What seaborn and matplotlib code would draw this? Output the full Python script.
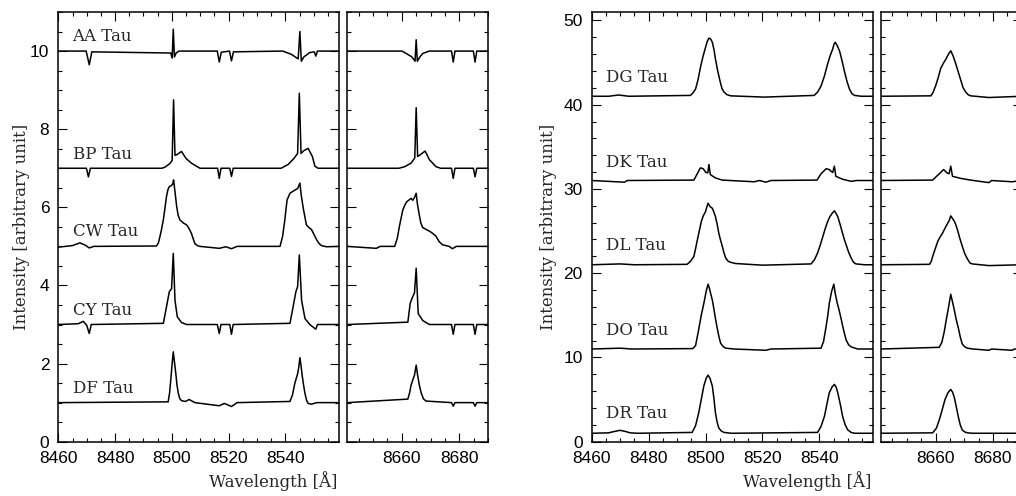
import matplotlib
matplotlib.use("Agg")
import matplotlib.pyplot as plt
from matplotlib.ticker import MultipleLocator
import seaborn as sns

sns.set_style("ticks")
plt.rcParams["font.family"] = ["Liberation Sans", "DejaVu Sans"]

# ---- spectra (wavelength in A, intensity) ----
# left group: offsets 10, 7, 5, 3, 1
aa_wave = [8460, 8469.8, 8470.9, 8471.8, 8499.6, 8500.1, 8500.5, 8500.9, 8501.5, 8502.5,
           8516.0, 8516.7, 8517.4, 8520.3, 8521.0, 8521.7, 8539.0, 8542.0, 8544.5, 8545.1,
           8545.6, 8546.5, 8548.5, 8550.2, 8550.7, 8551.3, 8559,
           8641, 8660.0, 8661.5, 8663.5, 8664.6, 8665.0, 8665.4, 8666.3, 8667.3, 8669.6,
           8677.3, 8677.9, 8678.5, 8684.9, 8685.5, 8686.1, 8690]
aa_flux = [10.0, 10.0, 9.65, 9.98, 9.95, 9.82, 10.56, 9.85, 9.95, 10.0,
           10.0, 9.72, 9.97, 10.0, 9.75, 9.98, 10.0, 9.92, 9.80, 10.50,
           9.74, 9.85, 9.96, 9.98, 9.87, 10.0, 10.0,
           10.0, 10.0, 9.94, 9.85, 9.74, 10.29, 9.74, 9.85, 9.94, 10.0,
           10.0, 9.72, 10.0, 10.0, 9.72, 10.0, 10.0]

bp_wave = [8460, 8469.9, 8470.6, 8471.3, 8496.5, 8497.6, 8499.3, 8500.1, 8500.6, 8501.1,
           8501.8, 8503.4, 8505.0, 8506.9, 8509.9, 8516.1, 8516.7, 8517.3, 8520.4, 8521.0,
           8521.6, 8538.5, 8541.0, 8543.0, 8544.3, 8544.9, 8545.5, 8546.5, 8548.0, 8549.5,
           8550.4, 8551.5, 8559,
           8641, 8659.0, 8661.0, 8663.2, 8664.5, 8665.0, 8665.5, 8666.5, 8668.1, 8669.6,
           8671.9, 8673.5, 8677.3, 8677.9, 8678.5, 8684.9, 8685.5, 8686.1, 8690]
bp_flux = [7.0, 7.0, 6.78, 7.0, 7.0, 7.03, 7.12, 7.2, 8.75, 7.33,
           7.35, 7.43, 7.25, 7.13, 7.0, 7.0, 6.74, 7.0, 7.0, 6.79,
           7.0, 7.0, 7.1, 7.25, 7.38, 8.92, 7.38, 7.45, 7.51, 7.3,
           7.05, 7.0, 7.0,
           7.0, 7.0, 7.04, 7.13, 7.26, 8.55, 7.3, 7.35, 7.44, 7.22,
           7.04, 7.0, 7.0, 6.74, 7.0, 7.0, 6.78, 7.0, 7.0]

cw_wave = [8460, 8465.0, 8467.6, 8469.5, 8470.9, 8472.5,
           8494.6, 8495.3, 8495.8, 8496.4, 8497.0, 8497.6, 8498.1, 8498.6, 8499.1, 8499.9,
           8500.3, 8500.6, 8501.1, 8501.7, 8502.2, 8502.8, 8504.0, 8505.2, 8506.1, 8506.9,
           8507.5, 8508.1, 8509.0, 8509.9,
           8516.7, 8519.0, 8521.0, 8523.0,
           8538.1, 8539.0, 8539.8, 8540.2, 8540.6, 8541.6, 8543.3, 8544.3, 8545.1, 8545.6,
           8546.3, 8547.4, 8548.3, 8549.2, 8550.1, 8551.0, 8551.9, 8552.7, 8554.5, 8559,
           8641, 8651.1, 8652.5, 8657.5, 8658.4, 8659.2, 8660.3, 8661.0, 8661.7, 8663.2,
           8663.8, 8664.4, 8665.0, 8665.4, 8665.9, 8666.6, 8667.3, 8669.6, 8670.8, 8671.9,
           8673.0, 8674.2, 8676.5, 8677.6, 8679.0, 8690]
cw_flux = [4.98, 5.02, 5.09, 5.03, 4.96, 5.0,
           5.01, 5.1, 5.25, 5.45, 5.68, 6.0, 6.27, 6.45, 6.53, 6.56,
           6.6, 6.70, 6.4, 6.02, 5.8, 5.68, 5.6, 5.55, 5.45, 5.33,
           5.2, 5.07, 5.02, 5.0,
           4.95, 4.99, 4.94, 5.0,
           5.0, 5.25, 5.68, 5.95, 6.19, 6.36, 6.44, 6.48, 6.62, 6.3,
           5.97, 5.55, 5.48, 5.43, 5.3, 5.17, 5.07, 5.02, 4.99, 5.0,
           5.0, 4.95, 5.0, 5.0, 5.2, 5.53, 5.92, 6.05, 6.14, 6.23,
           6.18, 6.25, 6.36, 6.1, 5.88, 5.6, 5.48, 5.39, 5.33, 5.26,
           5.12, 5.04, 5.0, 4.94, 5.0, 5.0]

cy_wave = [8460, 8467.0, 8468.8, 8470.0, 8470.9, 8471.6, 8497.0, 8498.1, 8499.1, 8499.9,
           8500.5, 8501.1, 8501.9, 8503.4, 8505.2, 8516.0, 8516.7, 8517.3, 8520.4, 8521.0,
           8521.6, 8541.6, 8542.7, 8543.7, 8544.3, 8544.9, 8545.7, 8546.9, 8548.6, 8550.7,
           8551.3, 8559,
           8641, 8662.1, 8662.9, 8663.6, 8664.4, 8665.0, 8665.7, 8667.3, 8669.6,
           8677.3, 8677.9, 8678.5, 8684.9, 8685.5, 8686.1, 8690]
cy_flux = [3.0, 3.02, 3.08, 2.98, 2.77, 3.0, 3.03, 3.45, 3.84, 3.92,
           4.82, 3.62, 3.2, 3.05, 3.0, 3.0, 2.77, 3.0, 3.0, 2.75,
           3.0, 3.03, 3.45, 3.84, 3.97, 4.78, 3.62, 3.15, 3.0, 2.88,
           3.0, 3.0,
           3.0, 3.06, 3.54, 3.68, 3.81, 4.44, 3.28, 3.1, 3.0,
           3.0, 2.75, 3.0, 3.0, 2.75, 3.0, 3.0]

df_wave = [8460, 8498.7, 8499.2, 8499.6, 8500.1, 8500.5, 8500.9, 8501.4, 8501.8, 8502.3,
           8502.8, 8503.4, 8504.8, 8506.1, 8508.1,
           8516.7, 8518.5, 8521.0, 8523.0,
           8541.6, 8542.5, 8543.3, 8544.3, 8544.7, 8545.1, 8545.5, 8545.9, 8546.4, 8546.9,
           8547.5, 8548.0, 8549.2, 8551.0, 8559,
           8641, 8662.1, 8662.7, 8663.2, 8663.8, 8664.4, 8665.0, 8665.5, 8666.1, 8666.7,
           8667.5, 8668.4, 8677.3, 8677.9, 8678.5, 8684.9, 8685.5, 8686.1, 8690]
df_flux = [1.0, 1.02, 1.25, 1.57, 2.0, 2.30, 2.05, 1.74, 1.45, 1.23,
           1.1, 1.05, 1.03, 1.08, 1.0,
           0.92, 0.98, 0.9, 1.0,
           1.03, 1.2, 1.49, 1.74, 1.9, 2.15, 1.95, 1.7, 1.45, 1.23,
           1.05, 0.98, 0.96, 1.0, 1.0,
           1.0, 1.09, 1.25, 1.44, 1.58, 1.7, 1.96, 1.7, 1.45, 1.26,
           1.1, 1.04, 1.0, 0.91, 1.0, 1.0, 0.91, 1.0, 1.0]

# right group: offsets 41, 31, 21, 11, 1
dg_wave = [8460, 8466.0, 8469.4, 8473.0,
           8494.7, 8495.6, 8496.5, 8497.4, 8498.2, 8499.1, 8500.0, 8500.6, 8501.2, 8501.8,
           8502.4, 8503.0, 8503.5, 8504.3, 8505.1, 8505.8, 8506.5, 8507.5, 8508.8,
           8520.6,
           8538.2, 8539.4, 8540.6, 8541.8, 8542.9, 8543.8, 8544.7, 8545.2, 8545.6, 8546.3,
           8547.1, 8548.0, 8548.8, 8549.7, 8550.6, 8551.5, 8552.4, 8554.7, 8559,
           8641, 8658.4, 8659.2, 8660.1, 8661.0, 8661.8, 8662.7, 8663.6, 8664.5, 8665.3,
           8666.1, 8667.0, 8667.9, 8668.8, 8669.6, 8670.5, 8671.3, 8672.2, 8678.6, 8690]
dg_flux = [41.0, 41.0, 41.15, 41.0,
           41.1, 41.4, 41.85, 43.0, 44.4, 45.7, 46.8, 47.5, 47.9, 47.8,
           47.4, 46.5, 45.4, 44.0, 42.8, 41.9, 41.5, 41.2, 41.05,
           40.9,
           41.1, 41.5, 42.2, 43.4, 44.8, 45.8, 46.6, 47.2, 47.4, 47.0,
           46.4, 45.2, 44.0, 42.8, 41.85, 41.3, 41.1, 41.0, 41.0,
           41.0, 41.05, 41.5, 42.3, 43.3, 44.3, 44.9, 45.4, 46.0, 46.4,
           45.8, 44.9, 43.9, 42.9, 42.0, 41.5, 41.2, 41.05, 40.85, 41.0]

dk_wave = [8460, 8471.5, 8472.5, 8495.9, 8497.1, 8498.2, 8499.2, 8500.0, 8500.8, 8501.2,
           8501.7, 8503.5, 8505.9, 8517.1, 8519.0, 8521.2, 8523.0, 8539.2, 8540.6, 8542.4,
           8543.5, 8544.7, 8545.3, 8545.8, 8548.2, 8551.2, 8553.0, 8559,
           8641, 8659.0, 8661.3, 8662.8, 8664.0, 8664.7, 8665.3, 8665.9, 8668.8, 8672.2,
           8678.6, 8679.5, 8686.6, 8690]
dk_flux = [31.0, 30.8, 31.0, 31.05, 31.8, 32.5, 32.4, 32.0, 31.9, 32.9,
           31.7, 31.3, 31.05, 30.85, 31.0, 30.8, 31.0, 31.05, 31.8, 32.4,
           32.3, 31.95, 32.7, 31.5, 31.15, 30.9, 31.0, 31.0,
           31.0, 31.05, 31.8, 32.3, 31.9, 31.8, 32.7, 31.5, 31.25, 31.05,
           30.75, 31.0, 30.85, 31.0]

dl_wave = [8460, 8470.0, 8475.0,
           8493.5, 8494.7, 8495.9, 8496.5, 8497.1, 8497.8, 8498.5, 8499.2, 8500.0, 8500.5,
           8500.9, 8501.6, 8502.4, 8503.0, 8503.5, 8504.1, 8504.7, 8505.3, 8505.9, 8506.5,
           8507.1, 8508.0, 8508.8, 8510.5, 8520.0,
           8537.1, 8538.3, 8539.4, 8540.3, 8541.2, 8542.0, 8542.9, 8543.7, 8544.5, 8545.3,
           8545.9, 8546.5, 8547.3, 8548.2, 8548.8, 8549.4, 8550.3, 8551.2, 8552.0, 8552.9,
           8555.9, 8559,
           8641, 8657.9, 8658.5, 8659.1, 8660.0, 8660.8, 8661.6, 8662.5, 8663.1, 8663.7,
           8664.7, 8665.3, 8665.9, 8666.5, 8667.0, 8667.6, 8668.4, 8669.3, 8670.2, 8671.1,
           8672.0, 8672.8, 8678.6, 8690]
dl_flux = [21.0, 21.1, 21.0,
           21.05, 21.4, 21.98, 22.9, 23.9, 25.0, 26.1, 26.8, 27.3, 27.9,
           28.3, 27.9, 27.7, 27.2, 26.7, 25.8, 24.7, 23.9, 23.2, 22.4,
           21.8, 21.4, 21.3, 21.15, 20.95,
           21.1, 21.6, 22.4, 23.3, 24.3, 25.2, 26.1, 26.7, 27.1, 27.4,
           27.1, 26.7, 25.8, 24.7, 24.0, 23.4, 22.5, 21.8, 21.3, 21.1,
           21.0, 21.0,
           21.0, 21.05, 21.4, 22.1, 23.0, 23.8, 24.3, 24.8, 25.2, 25.6,
           26.2, 26.8, 26.5, 26.2, 25.8, 25.2, 24.2, 23.2, 22.3, 21.7,
           21.2, 21.1, 20.9, 21.0]

do_wave = [8460, 8470.0, 8474.0,
           8495.5, 8496.5, 8497.6, 8498.5, 8499.4, 8500.2, 8500.9, 8501.3, 8501.8, 8502.4,
           8502.9, 8503.5, 8504.1, 8504.7, 8505.3, 8506.2, 8507.1, 8510.0, 8521.2, 8523.0,
           8540.6, 8541.5, 8542.4, 8543.0, 8543.5, 8544.3, 8545.1, 8545.6, 8546.2, 8546.9,
           8547.6, 8548.5, 8549.4, 8550.3, 8551.2, 8553.5, 8559,
           8641, 8661.3, 8662.2, 8663.0, 8663.7, 8664.4, 8665.3, 8665.9, 8666.5, 8667.2,
           8668.0, 8668.7, 8669.3, 8670.2, 8671.1, 8673.0,
           8678.6, 8679.5, 8686.6, 8687.5, 8690]
do_flux = [11.0, 11.1, 11.0,
           11.05, 11.4, 13.3, 15.0, 16.4, 17.8, 18.7, 18.3, 17.6, 16.8,
           15.85, 14.6, 13.5, 12.5, 11.7, 11.3, 11.1, 11.0, 10.85, 11.0,
           11.1, 11.9, 13.7, 15.0, 16.4, 17.8, 18.7, 17.6, 16.6, 15.7,
           14.7, 13.3, 12.1, 11.5, 11.25, 11.0, 11.0,
           11.0, 11.2, 11.8, 13.0, 14.4, 15.7, 17.5, 16.6, 15.7, 14.5,
           13.4, 12.3, 11.6, 11.25, 11.1, 11.0,
           10.85, 11.0, 10.85, 11.0, 11.0]

dr_wave = [8460, 8466.0, 8467.1, 8470.0, 8472.0, 8473.5, 8476.0,
           8495.3, 8496.5, 8497.6, 8498.5, 8499.4, 8500.2, 8500.9, 8501.6, 8502.4, 8503.0,
           8503.5, 8504.1, 8504.7, 8505.6, 8506.5, 8509.0,
           8539.4, 8540.6, 8541.8, 8542.7, 8543.5, 8544.5, 8545.3, 8545.9, 8546.5, 8547.4,
           8548.2, 8549.1, 8550.0, 8551.2, 8552.4, 8559,
           8641, 8659.0, 8660.3, 8661.5, 8662.4, 8663.3, 8664.3, 8665.3, 8665.9, 8666.5,
           8667.2, 8667.9, 8668.6, 8669.3, 8670.2, 8671.1, 8673.0, 8690]
dr_flux = [1.0, 1.05, 1.15, 1.35, 1.2, 1.05, 1.0,
           1.1, 1.9, 3.4, 5.0, 6.6, 7.5, 7.9, 7.5, 6.6, 5.0,
           3.4, 2.3, 1.6, 1.25, 1.1, 1.0,
           1.1, 1.8, 3.0, 4.5, 5.8, 6.5, 6.8, 6.5, 5.8, 4.4,
           3.0, 2.0, 1.4, 1.1, 1.0, 1.0,
           1.0, 1.05, 1.6, 2.8, 3.9, 5.0, 5.8, 6.2, 5.9, 5.3,
           4.2, 3.0, 2.0, 1.4, 1.15, 1.05, 1.0, 1.0]

left_names = ["AA Tau", "BP Tau", "CW Tau", "CY Tau", "DF Tau"]
left_label_y = [10.37, 7.34, 5.39, 3.37, 1.37]
left_spectra = [(aa_wave, aa_flux), (bp_wave, bp_flux), (cw_wave, cw_flux),
                (cy_wave, cy_flux), (df_wave, df_flux)]

right_names = ["DG Tau", "DK Tau", "DL Tau", "DO Tau", "DR Tau"]
right_label_y = [43.2, 33.1, 23.3, 13.25, 3.4]
right_spectra = [(dg_wave, dg_flux), (dk_wave, dk_flux), (dl_wave, dl_flux),
                 (do_wave, do_flux), (dr_wave, dr_flux)]

blue_range = (8460, 8559)
red_range = (8641, 8690)

# ---- figure ----
fig = plt.figure(figsize=(10.16, 4.96), dpi=100)
bot, hgt = 0.1095, 0.8663
ax_l1 = fig.add_axes([0.0574, bot, 0.2766, hgt])
ax_l2 = fig.add_axes([0.3418, bot, 0.1385, hgt])
ax_r1 = fig.add_axes([0.5824, bot, 0.2772, hgt])
ax_r2 = fig.add_axes([0.8671, bot, 0.1385, hgt])


def style_axis(ax, xlim, ylim, ymajor, yminor, ylabels):
    ax.set_xlim(*xlim)
    ax.set_ylim(*ylim)
    ax.xaxis.set_major_locator(MultipleLocator(20))
    ax.xaxis.set_minor_locator(MultipleLocator(5))
    ax.yaxis.set_major_locator(MultipleLocator(ymajor))
    ax.yaxis.set_minor_locator(MultipleLocator(yminor))
    ax.tick_params(which="both", direction="in", top=True, right=True,
                   width=0.8, color="black", labelsize=12.5, labelcolor="black")
    ax.tick_params(which="major", length=6.5)
    ax.tick_params(which="minor", length=3.2)
    ax.tick_params(axis="x", pad=7)
    ax.tick_params(axis="y", pad=6.5, labelleft=ylabels)
    for sp in ax.spines.values():
        sp.set_linewidth(1.1)
        sp.set_color("black")
    ax.set_xlabel("")
    ax.set_ylabel("")


groups = [
    (ax_l1, ax_l2, left_spectra, left_names, left_label_y, (0, 11), 2, 0.5),
    (ax_r1, ax_r2, right_spectra, right_names, right_label_y, (0, 51), 10, 2),
]

for ax1, ax2, spectra, names, label_y, ylim, ymaj, ymin in groups:
    for (wave, flux), name, ly in zip(spectra, names, label_y):
        for ax in (ax1, ax2):
            sns.lineplot(x=wave, y=flux, ax=ax, color="black", linewidth=1.1,
                         estimator=None, sort=False, legend=False)
        ax1.text(8465, ly, name, fontsize=12, family="DejaVu Serif",
                 ha="left", va="center")
    style_axis(ax1, blue_range, ylim, ymaj, ymin, True)
    style_axis(ax2, red_range, ylim, ymaj, ymin, False)

for xc in (0.2692, 0.7943):
    fig.text(xc, 0.030, "Wavelength [Å]", fontsize=12, family="DejaVu Serif",
             ha="center", va="center")
for xc in (0.0212, 0.5399):
    fig.text(xc, 0.5423, "Intensity [arbitrary unit]", fontsize=12,
             family="DejaVu Serif", rotation=90, ha="center", va="center")

fig.savefig("out.png", dpi=100, facecolor="white")
